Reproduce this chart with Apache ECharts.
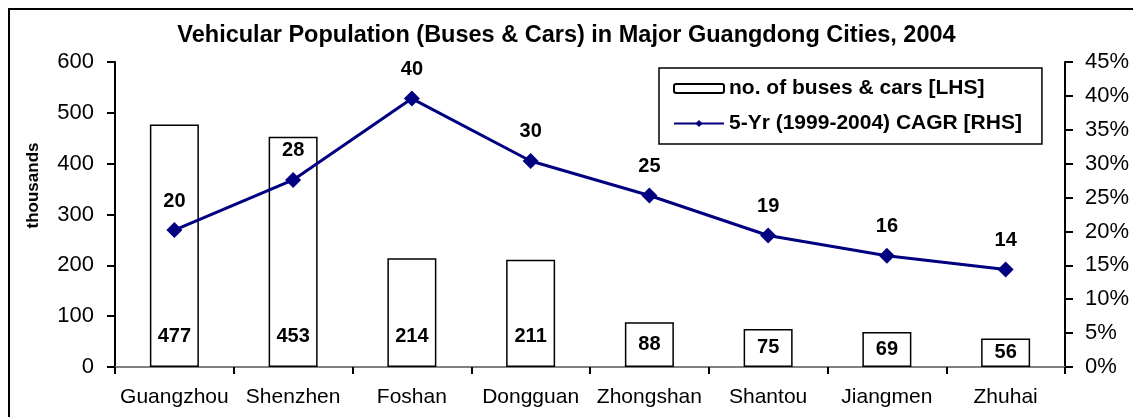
<!DOCTYPE html>
<html>
<head>
<meta charset="utf-8">
<script src="https://cdn.jsdelivr.net/npm/echarts@6/dist/echarts.min.js"></script>
<style>
  html, body { margin: 0; padding: 0; background: #fff; }
  #chart { width: 1133px; height: 417px; }
</style>
</head>
<body>
<div id="chart"></div>
<script>
// data
var cities = ['Guangzhou', 'Shenzhen', 'Foshan', 'Dongguan', 'Zhongshan', 'Shantou', 'Jiangmen', 'Zhuhai'];
var vehicles = [477, 453, 214, 211, 88, 75, 69, 56];          // thousands
var cagr = [20.2, 27.6, 39.6, 30.4, 25.3, 19.4, 16.4, 14.4];  // percent

var font = 'Arial, "Liberation Sans", sans-serif';

// small bars get the label in the middle, tall ones near the bottom
var barData = vehicles.map(function (v) {
    return {
        value: v,
        label: v < 100 ? { position: 'inside' } : { position: 'insideBottom', distance: 21 }
    };
});

var option = {
    animation: false,
    textStyle: { fontFamily: font },
    title: {
        text: 'Vehicular Population (Buses & Cars) in Major Guangdong Cities, 2004',
        left: 'center',
        top: 19,
        textStyle: { fontSize: 23.5, fontWeight: 'bold', color: '#000', fontFamily: font }
    },
    // outer frame: right and bottom edges fall outside the picture
    graphic: [{
        type: 'rect',
        shape: { x: 9, y: 9, width: 1200, height: 500 },
        style: { fill: 'none', stroke: '#000', lineWidth: 2 },
        silent: true
    }],
    grid: { left: 115, right: 68, top: 62, bottom: 50 },
    legend: {
        orient: 'vertical',
        left: 659,
        top: 68,
        padding: [10, 20, 10, 14],
        itemGap: 14,
        itemWidth: 50,
        itemHeight: 9,
        backgroundColor: '#fff',
        borderColor: '#000',
        borderWidth: 1.5,
        borderRadius: 0,
        textStyle: { fontSize: 21, fontWeight: 'bold', color: '#000', fontFamily: font },
        data: ['no. of buses & cars [LHS]', '5-Yr (1999-2004) CAGR [RHS]']
    },
    xAxis: [{
        type: 'category',
        data: cities,
        axisLine: { lineStyle: { color: '#000', width: 2 } },
        axisTick: { show: true, length: 7, lineStyle: { color: '#000', width: 2 } },
        axisLabel: { color: '#000', fontSize: 21, margin: 20, fontFamily: font, interval: 0 },
        splitLine: { show: false }
    }, {
        type: 'category',
        position: 'top',
        data: cities,
        axisLine: { show: true, lineStyle: { color: '#808080', width: 2 } },
        axisTick: { show: false },
        axisLabel: { show: false }
    }],
    yAxis: [{
        type: 'value',
        min: 0,
        max: 600,
        interval: 100,
        name: 'thousands',
        nameLocation: 'middle',
        nameGap: 73,
        nameTextStyle: { fontSize: 17, fontWeight: 'bold', color: '#000', fontFamily: font, padding: [0, 0, 0, 58] },
        axisLine: { show: true, lineStyle: { color: '#000', width: 2 } },
        axisTick: { show: true, length: 8, lineStyle: { color: '#000', width: 2 } },
        axisLabel: { color: '#000', fontSize: 22, margin: 21, fontFamily: font },
        splitLine: { show: false }
    }, {
        type: 'value',
        min: 0,
        max: 45,
        interval: 5,
        position: 'right',
        axisLine: { show: true, lineStyle: { color: '#000', width: 2 } },
        axisTick: { show: true, length: 8, lineStyle: { color: '#000', width: 2 } },
        axisLabel: { color: '#000', fontSize: 22, margin: 20, fontFamily: font, formatter: '{value}%' },
        splitLine: { show: false }
    }],
    series: [{
        name: 'no. of buses & cars [LHS]',
        type: 'bar',
        barWidth: 49,
        data: barData,
        itemStyle: { color: '#fff', borderColor: '#000', borderWidth: 1.5 },
        label: {
            show: true,
            color: '#000',
            fontSize: 20,
            fontWeight: 'bold',
            fontFamily: font
        }
    }, {
        name: '5-Yr (1999-2004) CAGR [RHS]',
        type: 'line',
        yAxisIndex: 1,
        data: cagr,
        symbol: 'diamond',
        symbolSize: 16,
        lineStyle: { color: '#000080', width: 3 },
        itemStyle: { color: '#000080' },
        label: {
            show: true,
            position: 'top',
            distance: 11,
            color: '#000',
            fontSize: 20,
            fontWeight: 'bold',
            fontFamily: font,
            formatter: function (p) { return Math.round(p.value); }
        }
    }]
};

var chart = echarts.init(document.getElementById('chart'));
chart.setOption(option);
</script>
</body>
</html>
